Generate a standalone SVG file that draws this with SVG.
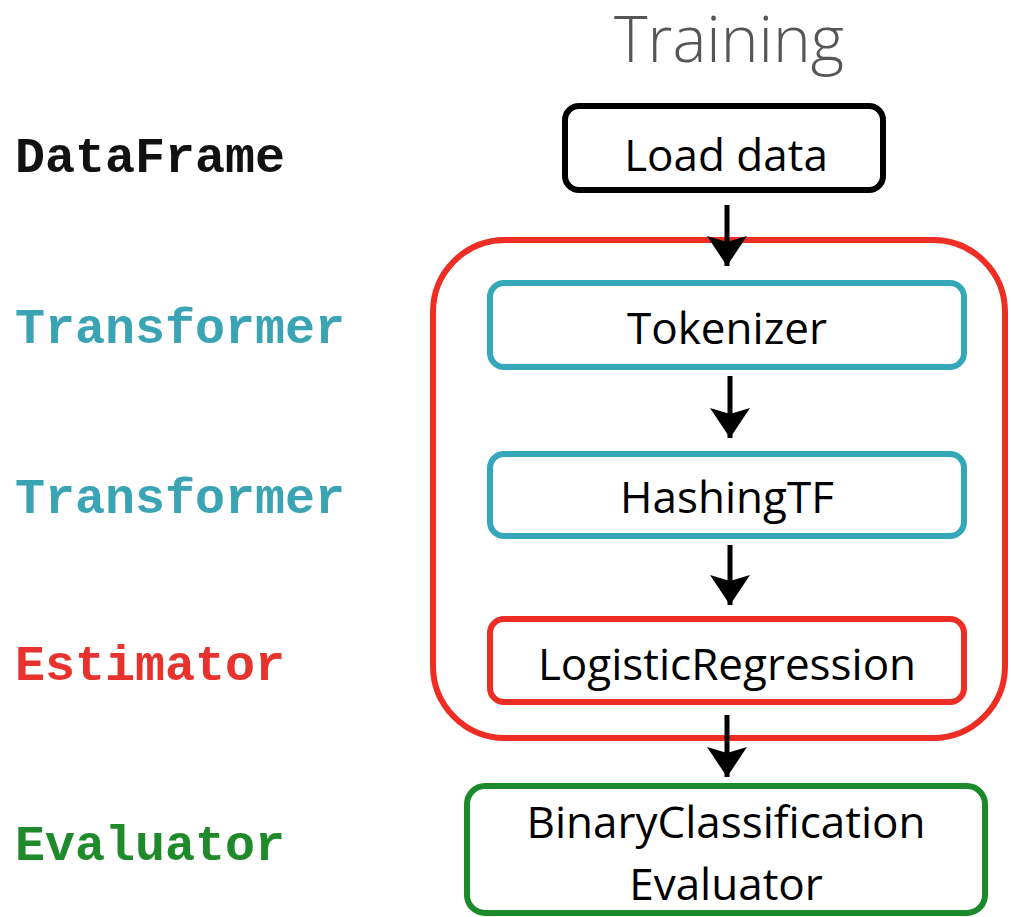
<svg xmlns="http://www.w3.org/2000/svg" width="1011" height="917" viewBox="0 0 1011 917">
<style>
.lbl{font-family:"Liberation Mono","Courier New",monospace;font-weight:bold;font-size:50px}
.nt{font-family:"Open Sans",Lato,sans-serif;font-size:44px;fill:#000;text-anchor:middle}
.box{fill:#fff;stroke-width:6}
.conn{stroke:#000;stroke-width:5;fill:none}
</style>
<defs>
<marker id="ah" markerWidth="8" markerHeight="8" refX="6" refY="4" orient="auto" markerUnits="strokeWidth" viewBox="0 0 8 8">
<path d="M0,0 L6,4 L0,8 L1.2,4 Z" fill="#000"/>
</marker>
</defs>
<rect width="1011" height="917" fill="#fff"/>
<text x="729" y="62" font-family="'Open Sans',Lato,sans-serif" font-weight="300" font-size="64" fill="#555" text-anchor="middle">Training</text>
<g id="labels">
<text class="lbl" x="15" y="172" fill="#111">DataFrame</text>
<text class="lbl" x="15" y="343" fill="#3aa3b4">Transformer</text>
<text class="lbl" x="15" y="513" fill="#3aa3b4">Transformer</text>
<text class="lbl" x="15" y="680" fill="#e8322e">Estimator</text>
<text class="lbl" x="15" y="860" fill="#1e8a2a">Evaluator</text>
</g>
<g id="pipeline">
<rect x="433" y="240" width="572" height="498" rx="72" fill="none" stroke="#ee2e24" stroke-width="6"/>
</g>
<g id="connectors">
<line class="conn" x1="727" y1="205" x2="727" y2="266" marker-end="url(#ah)"/>
<line class="conn" x1="730" y1="376" x2="730" y2="438" marker-end="url(#ah)"/>
<line class="conn" x1="730" y1="545" x2="730" y2="605" marker-end="url(#ah)"/>
<line class="conn" x1="727" y1="715" x2="727" y2="777" marker-end="url(#ah)"/>
</g>
<g id="load">
<rect class="box" x="565" y="106" width="318" height="84" rx="14" stroke="#000"/>
<text class="nt" x="726" y="171">Load data</text>
</g>
<g id="tokenizer">
<rect class="box" x="490" y="283" width="474" height="84" rx="14" stroke="#34a8b8"/>
<text class="nt" x="727" y="344">Tokenizer</text>
</g>
<g id="hashing">
<rect class="box" x="490" y="454" width="474" height="82" rx="14" stroke="#34a8b8"/>
<text class="nt" x="727" y="513">HashingTF</text>
</g>
<g id="logreg">
<rect class="box" x="490" y="619" width="474" height="83" rx="14" stroke="#ee2e24"/>
<text class="nt" x="727" y="680">LogisticRegression</text>
</g>
<g id="evaluator">
<rect class="box" x="467" y="786" width="518" height="127" rx="18" stroke="#1a8a2a"/>
<text class="nt" x="726" y="838">BinaryClassification</text>
<text class="nt" x="726" y="900">Evaluator</text>
</g>
</svg>
